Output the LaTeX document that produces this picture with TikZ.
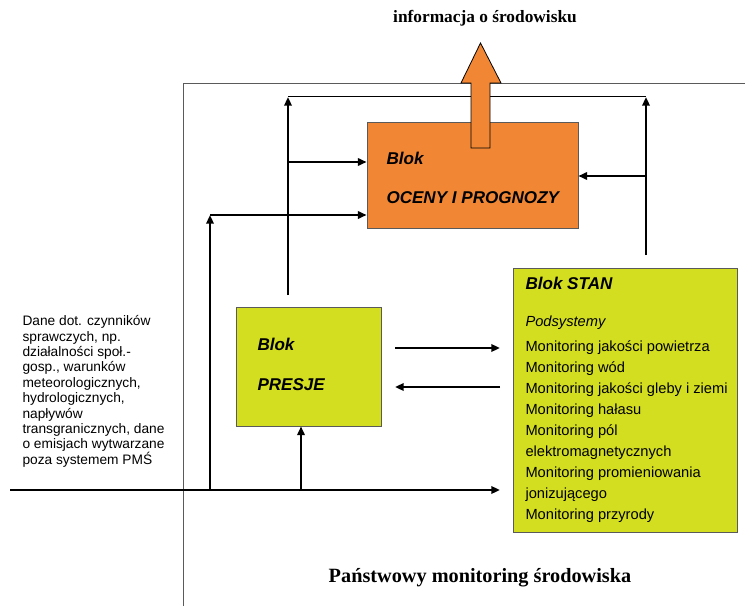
\documentclass[tikz,border=0pt]{standalone}
\usepackage{fontspec}
\setmainfont{Liberation Sans}
\newfontfamily\titlefont{Liberation Serif}
\usetikzlibrary{arrows.meta}
\definecolor{ocenyorange}{RGB}{241,135,52}
\definecolor{blokyellow}{RGB}{212,222,32}
\definecolor{framegray}{RGB}{90,90,90}
\newcommand{\tightlines}{\lineskiplimit=-20pt\relax}
\tikzset{every picture/.style={line width=0.75pt}}
\tikzset{
  blok/.style={draw=framegray, line width=0.6pt, inner sep=0pt},
  flow/.style={line width=1.6pt, -{Triangle[length=6.5pt,width=5.5pt]}},
  blokname/.style={anchor=west, inner sep=0.75pt, font=\fontsize{12.8}{14}\selectfont\bfseries\itshape},
}

\begin{document}
\begin{tikzpicture}[x=0.75pt,y=0.75pt,yscale=-1,xscale=1]
\useasboundingbox (0,0) rectangle (745,606);

%Frame of the monitoring system
\draw [framegray, line width=0.7pt] (183,606) -- (183,83) -- (745,83) ;

%Blocks
\node [blok, fill=ocenyorange, minimum width=158.25pt, minimum height=79.5pt] (oceny) at (472.5,175) {};
\node [blok, fill=blokyellow, minimum width=108.75pt, minimum height=89.25pt] (presje) at (308.5,366.5) {};
\node [blok, fill=blokyellow, minimum width=168pt, minimum height=198pt] (stan) at (625,400) {};

%Junction points
\coordinate (in) at (10,490) ;
\coordinate (stanin) at (500,490) ;
\coordinate (leftup) at (210,490) ;
\coordinate (lefttop) at (210,215) ;
\coordinate (presjeup) at (301,490) ;
\coordinate (midbot) at (288,295) ;
\coordinate (midtop) at (288,97) ;
\coordinate (midjoin) at (288,162) ;
\coordinate (rightbot) at (646,255) ;
\coordinate (righttop) at (646,97) ;
\coordinate (rightjoin) at (646,176) ;
\coordinate (pstart) at (395,348) ;
\coordinate (pend) at (500,348) ;
\coordinate (sstart) at (500,387) ;
\coordinate (send) at (395,387) ;

%Connectors
\draw [flow] (in) -- (stanin) ;
\draw [flow] (presjeup) -- (presjeup |- presje.south) ;
\draw [flow] (leftup) -- (lefttop) ;
\draw [flow] (lefttop) -- (lefttop -| oceny.west) ;
\draw [flow] (midbot) -- (midtop) ;
\draw [flow] (midjoin) -- (midjoin -| oceny.west) ;
\draw [line width=0.75pt] (midtop) -- (righttop) ;
\draw [flow] (rightbot) -- (righttop) ;
\draw [flow] (rightjoin) -- (rightjoin -| oceny.east) ;
\draw [flow] (pstart) -- (pend) ;
\draw [flow] (sstart) -- (send) ;

%Big output arrow
\draw [fill=ocenyorange, line width=0.6pt] (471,148) -- (471,83) -- (461,83) -- (480.5,43) -- (501,83) -- (490,83) -- (490,148) -- cycle ;

% Text Nodes
\node [blokname] (ocenyA) at (385,158) {Blok};
\node [blokname] (ocenyB) at (385,198) {OCENY I PROGNOZY};
\node [blokname] (presjeA) at (256,344) {Blok};
\node [blokname] (presjeB) at (256,385) {PRESJE};
\node [blokname] (stanA) at (524,283) {Blok STAN};
\node [anchor=west, inner sep=0.75pt, font=\fontsize{11}{12}\selectfont\itshape] (podsys) at (524,323) {Podsystemy};
\node [anchor=north west, inner sep=0.75pt, align=left, font=\fontsize{11}{15.75}\selectfont\tightlines] (stanlist) at (524,339) {Monitoring jakości powietrza\\Monitoring wód\\Monitoring jakości gleby i ziemi\\Monitoring hałasu\\Monitoring pól\\elektromagnetycznych\\Monitoring promieniowania\\jonizującego\\Monitoring przyrody};
\node [anchor=north west, inner sep=0.75pt, align=left, font=\fontsize{10.3}{11.55}\selectfont\tightlines] (dane) at (21,314) {Dane dot. czynników\\sprawczych, np.\\działalności społ.-\\gosp., warunków\\meteorologicznych,\\hydrologicznych,\\napływów\\transgranicznych, dane\\o emisjach wytwarzane\\poza systemem PMŚ};
\node [inner sep=0.75pt, font=\titlefont\fontsize{13}{15}\selectfont\bfseries] (info) at (485,18) {informacja o środowisku};
\node [inner sep=0.75pt, font=\titlefont\fontsize{15.2}{18}\selectfont\bfseries] (pms) at (480,578) {Państwowy monitoring środowiska};

\end{tikzpicture}
\end{document}
